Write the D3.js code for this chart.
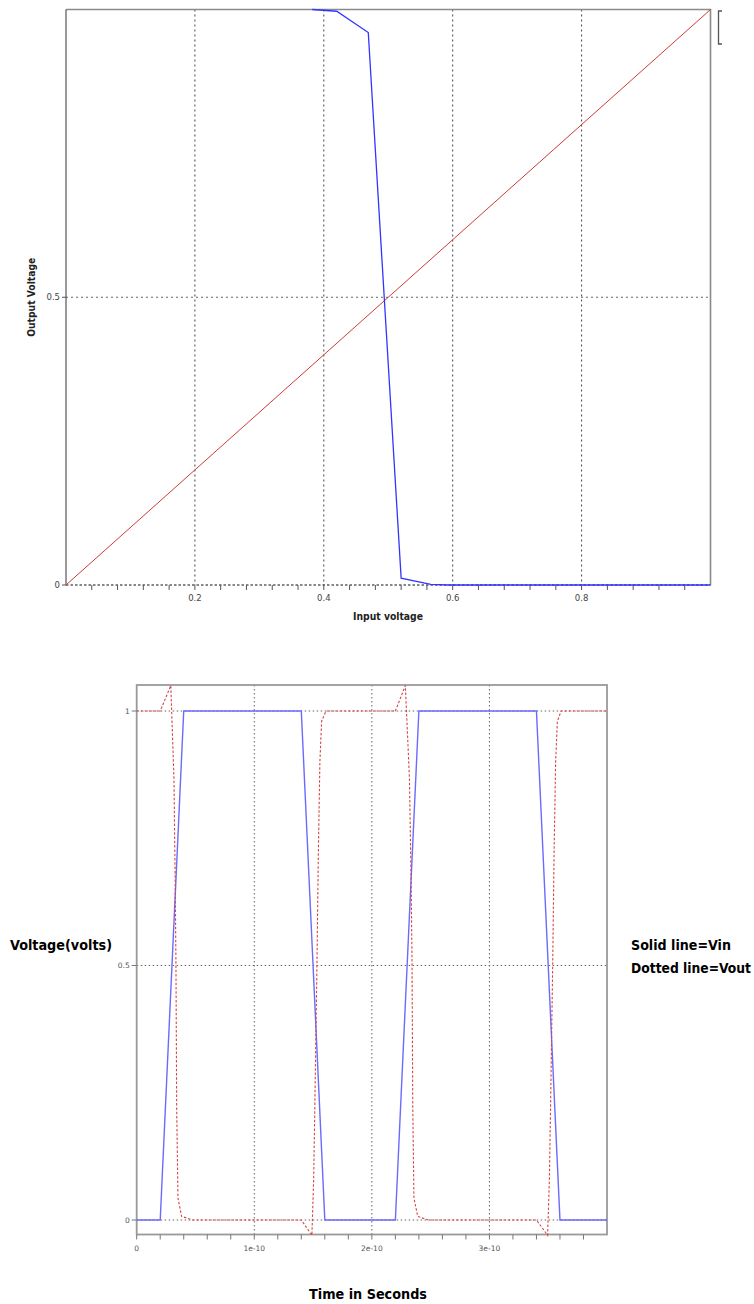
<!DOCTYPE html>
<html>
<head>
<meta charset="utf-8">
<script src="https://cdn.jsdelivr.net/npm/d3@7"></script>
<style>
  html, body { margin: 0; padding: 0; background: #ffffff; }
  svg { display: block; }
</style>
</head>
<body>
<svg id="chart" width="754" height="1304"></svg>
<script>
// ---- Inverter DC transfer characteristic (Vout vs Vin) ----
const vtcIn  = [0.382, 0.42, 0.469, 0.52, 0.566, 0.593, 1.0];
const vtcOut = [1.0, 0.997, 0.96, 0.012, 0.001, 0.0, 0.0];
// unity reference line Vout = Vin
const refIn  = [0, 1];
const refOut = [0, 1];
const vtcXTicks = [0.2, 0.4, 0.6, 0.8];
const vtcXTickLabels = ["0.2", "0.4", "0.6", "0.8"];
const vtcYTicks = [0, 0.5];
const vtcYTickLabels = ["0", "0.5"];

// ---- Transient response (seconds, volts) ----
const timeIn = [0, 2e-11, 4e-11, 1.4e-10, 1.6e-10, 2.2e-10, 2.4e-10, 3.4e-10, 3.6e-10, 4e-10];
const vinWave = [0, 0, 1, 1, 0, 0, 1, 1, 0, 0];
const timeOut = [
  0, 2.0e-11, 2.9e-11, 3.17e-11, 3.28e-11, 3.34e-11, 3.4e-11, 3.51e-11, 3.82e-11, 4.8e-11,
  1.40e-10, 1.49e-10, 1.505e-10, 1.515e-10, 1.533e-10, 1.545e-10, 1.558e-10, 1.573e-10, 1.61e-10,
  2.20e-10, 2.285e-10, 2.32e-10, 2.335e-10, 2.342e-10, 2.348e-10, 2.358e-10, 2.39e-10, 2.48e-10,
  3.40e-10, 3.495e-10, 3.51e-10, 3.52e-10, 3.538e-10, 3.55e-10, 3.563e-10, 3.578e-10, 3.61e-10, 4e-10
];
const voutWave = [
  1, 1, 1.05, 0.866, 0.651, 0.5, 0.222, 0.043, 0.007, 0,
  0, -0.03, 0.079, 0.222, 0.5, 0.722, 0.9, 0.98, 1,
  1, 1.05, 0.866, 0.651, 0.5, 0.222, 0.043, 0.007, 0,
  0, -0.03, 0.079, 0.222, 0.5, 0.722, 0.9, 0.98, 1, 1
];
const tranXTicks = [0, 1e-10, 2e-10, 3e-10];
const tranXTickLabels = ["0", "1e-10", "2e-10", "3e-10"];
const tranYTicks = [0, 0.5, 1];
const tranYTickLabels = ["0", "0.5", "1"];

const svg = d3.select("#chart");
const tickFont = "DejaVu Sans, Arial, sans-serif";
const headFont = "'Liberation Sans Narrow', 'DejaVu Sans Condensed', 'Liberation Sans', Arial, sans-serif";

// ================= Transfer characteristic =================
const x1 = d3.scaleLinear().domain([0, 1]).range([66, 710.5]);
const y1 = d3.scaleLinear().domain([0, 1]).range([585, 9.5]);
const g1 = svg.append("g");

// vertical grid
g1.selectAll("line.vgrid").data(vtcXTicks).join("line")
  .attr("x1", d => x1(d)).attr("x2", d => x1(d))
  .attr("y1", y1(1)).attr("y2", y1(0))
  .attr("stroke", "#444").attr("stroke-width", 1).attr("stroke-dasharray", "2,3");
// horizontal grid at 0.5
g1.append("line")
  .attr("x1", x1(0)).attr("x2", x1(1)).attr("y1", y1(0.5)).attr("y2", y1(0.5))
  .attr("stroke", "#666").attr("stroke-width", 1).attr("stroke-dasharray", "2,3");
// zero line (dashed)
g1.append("line")
  .attr("x1", x1(0)).attr("x2", x1(1)).attr("y1", y1(0)).attr("y2", y1(0))
  .attr("stroke", "#111").attr("stroke-width", 1.2).attr("stroke-dasharray", "2.5,2");

// frame: top + right in grey, left dark
g1.append("path")
  .attr("d", `M${x1(0)},${y1(1)}H${x1(1)}V${y1(0)}`)
  .attr("fill", "none").attr("stroke", "#8a8a8a").attr("stroke-width", 1.6);
g1.append("line")
  .attr("x1", x1(0)).attr("x2", x1(0)).attr("y1", y1(1)).attr("y2", y1(0))
  .attr("stroke", "#555").attr("stroke-width", 1.2);

// x ticks (every 0.04)
const vtcMinor = d3.range(1, 25).map(i => +(i * 0.04).toFixed(2));
g1.selectAll("line.xt").data(vtcMinor).join("line")
  .attr("x1", d => x1(d)).attr("x2", d => x1(d))
  .attr("y1", y1(0)).attr("y2", y1(0) + 5)
  .attr("stroke", "#555").attr("stroke-width", 1);
g1.selectAll("text.xl").data(vtcXTicks).join("text")
  .attr("x", d => x1(d)).attr("y", 601)
  .attr("text-anchor", "middle").attr("font-family", tickFont).attr("font-size", 8.5)
  .attr("fill", "#444").text((d, i) => vtcXTickLabels[i]);
// y ticks
g1.selectAll("line.yt").data(vtcYTicks).join("line")
  .attr("x1", x1(0) - 4).attr("x2", x1(0))
  .attr("y1", d => y1(d)).attr("y2", d => y1(d))
  .attr("stroke", "#555").attr("stroke-width", 1);
g1.selectAll("text.yl").data(vtcYTicks).join("text")
  .attr("x", x1(0) - 6).attr("y", d => y1(d) + 3)
  .attr("text-anchor", "end").attr("font-family", tickFont).attr("font-size", 8.5)
  .attr("fill", "#444").text((d, i) => vtcYTickLabels[i]);

// curves
const line1 = d3.line().x(d => x1(d[0])).y(d => y1(d[1]));
g1.append("path").datum(d3.zip(refIn, refOut))
  .attr("d", line1).attr("fill", "none").attr("stroke", "#cc3b3b").attr("stroke-width", 1);
g1.append("path").datum(d3.zip(vtcIn, vtcOut))
  .attr("d", line1).attr("fill", "none").attr("stroke", "#3434ff").attr("stroke-width", 1.3);

// clipped legend box edge at the right
g1.append("path")
  .attr("d", `M722,11H718.5V44H722`)
  .attr("fill", "none").attr("stroke", "#555").attr("stroke-width", 1.3);

// axis titles
g1.append("text")
  .attr("x", 388).attr("y", 620).attr("text-anchor", "middle")
  .attr("font-family", headFont).attr("font-size", 11).attr("font-weight", "bold")
  .attr("fill", "#222").attr("textLength", 70).attr("lengthAdjust", "spacingAndGlyphs")
  .text("Input voltage");
g1.append("text")
  .attr("transform", `translate(35,${y1(0.5)}) rotate(-90)`)
  .attr("text-anchor", "middle")
  .attr("font-family", headFont).attr("font-size", 10.5).attr("font-weight", "bold")
  .attr("fill", "#222").attr("textLength", 79).attr("lengthAdjust", "spacingAndGlyphs")
  .text("Output Voltage");

// ================= Transient response =================
const x2 = d3.scaleLinear().domain([0, 4e-10]).range([136.7, 607]);
const y2 = d3.scaleLinear().domain([0, 1]).range([1220, 711]);
const frameTop = 685, frameBottom = 1234.5;
const g2 = svg.append("g");

// grid
g2.selectAll("line.vgrid").data(tranXTicks.slice(1)).join("line")
  .attr("x1", d => x2(d)).attr("x2", d => x2(d))
  .attr("y1", frameTop).attr("y2", frameBottom)
  .attr("stroke", "#666").attr("stroke-width", 1).attr("stroke-dasharray", "1.5,2.5");
g2.selectAll("line.hgrid").data(tranYTicks).join("line")
  .attr("x1", x2(0)).attr("x2", x2(4e-10))
  .attr("y1", d => y2(d)).attr("y2", d => y2(d))
  .attr("stroke", "#666").attr("stroke-width", 1).attr("stroke-dasharray", "1.5,2.5");

// frame
g2.append("rect")
  .attr("x", x2(0)).attr("y", frameTop)
  .attr("width", x2(4e-10) - x2(0)).attr("height", frameBottom - frameTop)
  .attr("fill", "none").attr("stroke", "#9a9a9a").attr("stroke-width", 1.8);

// x ticks every 2e-11
const tranMinor = d3.range(0, 20).map(i => i * 2e-11);
g2.selectAll("line.xt").data(tranMinor).join("line")
  .attr("x1", d => x2(d)).attr("x2", d => x2(d))
  .attr("y1", frameBottom).attr("y2", frameBottom + 5)
  .attr("stroke", "#777").attr("stroke-width", 1);
g2.selectAll("text.xl").data(tranXTicks).join("text")
  .attr("x", d => x2(d)).attr("y", 1251)
  .attr("text-anchor", "middle").attr("font-family", tickFont).attr("font-size", 7.5)
  .attr("fill", "#555").text((d, i) => tranXTickLabels[i]);
// y ticks
g2.selectAll("line.yt").data(tranYTicks).join("line")
  .attr("x1", x2(0) - 5).attr("x2", x2(0))
  .attr("y1", d => y2(d)).attr("y2", d => y2(d))
  .attr("stroke", "#777").attr("stroke-width", 1);
g2.selectAll("text.yl").data(tranYTicks).join("text")
  .attr("x", x2(0) - 7).attr("y", d => y2(d) + 2.5)
  .attr("text-anchor", "end").attr("font-family", tickFont).attr("font-size", 7.5)
  .attr("fill", "#555").text((d, i) => tranYTickLabels[i]);

// waveforms
const line2 = d3.line().x(d => x2(d[0])).y(d => y2(d[1]));
g2.append("path").datum(d3.zip(timeIn, vinWave))
  .attr("d", line2).attr("fill", "none").attr("stroke", "#6a6aff").attr("stroke-width", 1.4);
g2.append("path").datum(d3.zip(timeOut, voutWave))
  .attr("d", line2).attr("fill", "none").attr("stroke", "#d64646").attr("stroke-width", 1.1)
  .attr("stroke-dasharray", "2.5,1.8");

// labels
g2.append("text")
  .attr("x", 10).attr("y", 950)
  .attr("font-family", headFont).attr("font-size", 14).attr("font-weight", "bold")
  .attr("fill", "#000").attr("textLength", 102).attr("lengthAdjust", "spacingAndGlyphs")
  .text("Voltage(volts)");
g2.append("text")
  .attr("x", 631).attr("y", 950)
  .attr("font-family", headFont).attr("font-size", 14).attr("font-weight", "bold")
  .attr("fill", "#000").attr("textLength", 100).attr("lengthAdjust", "spacingAndGlyphs")
  .text("Solid line=Vin");
g2.append("text")
  .attr("x", 631).attr("y", 973)
  .attr("font-family", headFont).attr("font-size", 14).attr("font-weight", "bold")
  .attr("fill", "#000").attr("textLength", 120).attr("lengthAdjust", "spacingAndGlyphs")
  .text("Dotted line=Vout");
g2.append("text")
  .attr("x", 368).attr("y", 1299).attr("text-anchor", "middle")
  .attr("font-family", headFont).attr("font-size", 14).attr("font-weight", "bold")
  .attr("fill", "#000").attr("textLength", 118).attr("lengthAdjust", "spacingAndGlyphs")
  .text("Time in Seconds");
</script>
</body>
</html>
